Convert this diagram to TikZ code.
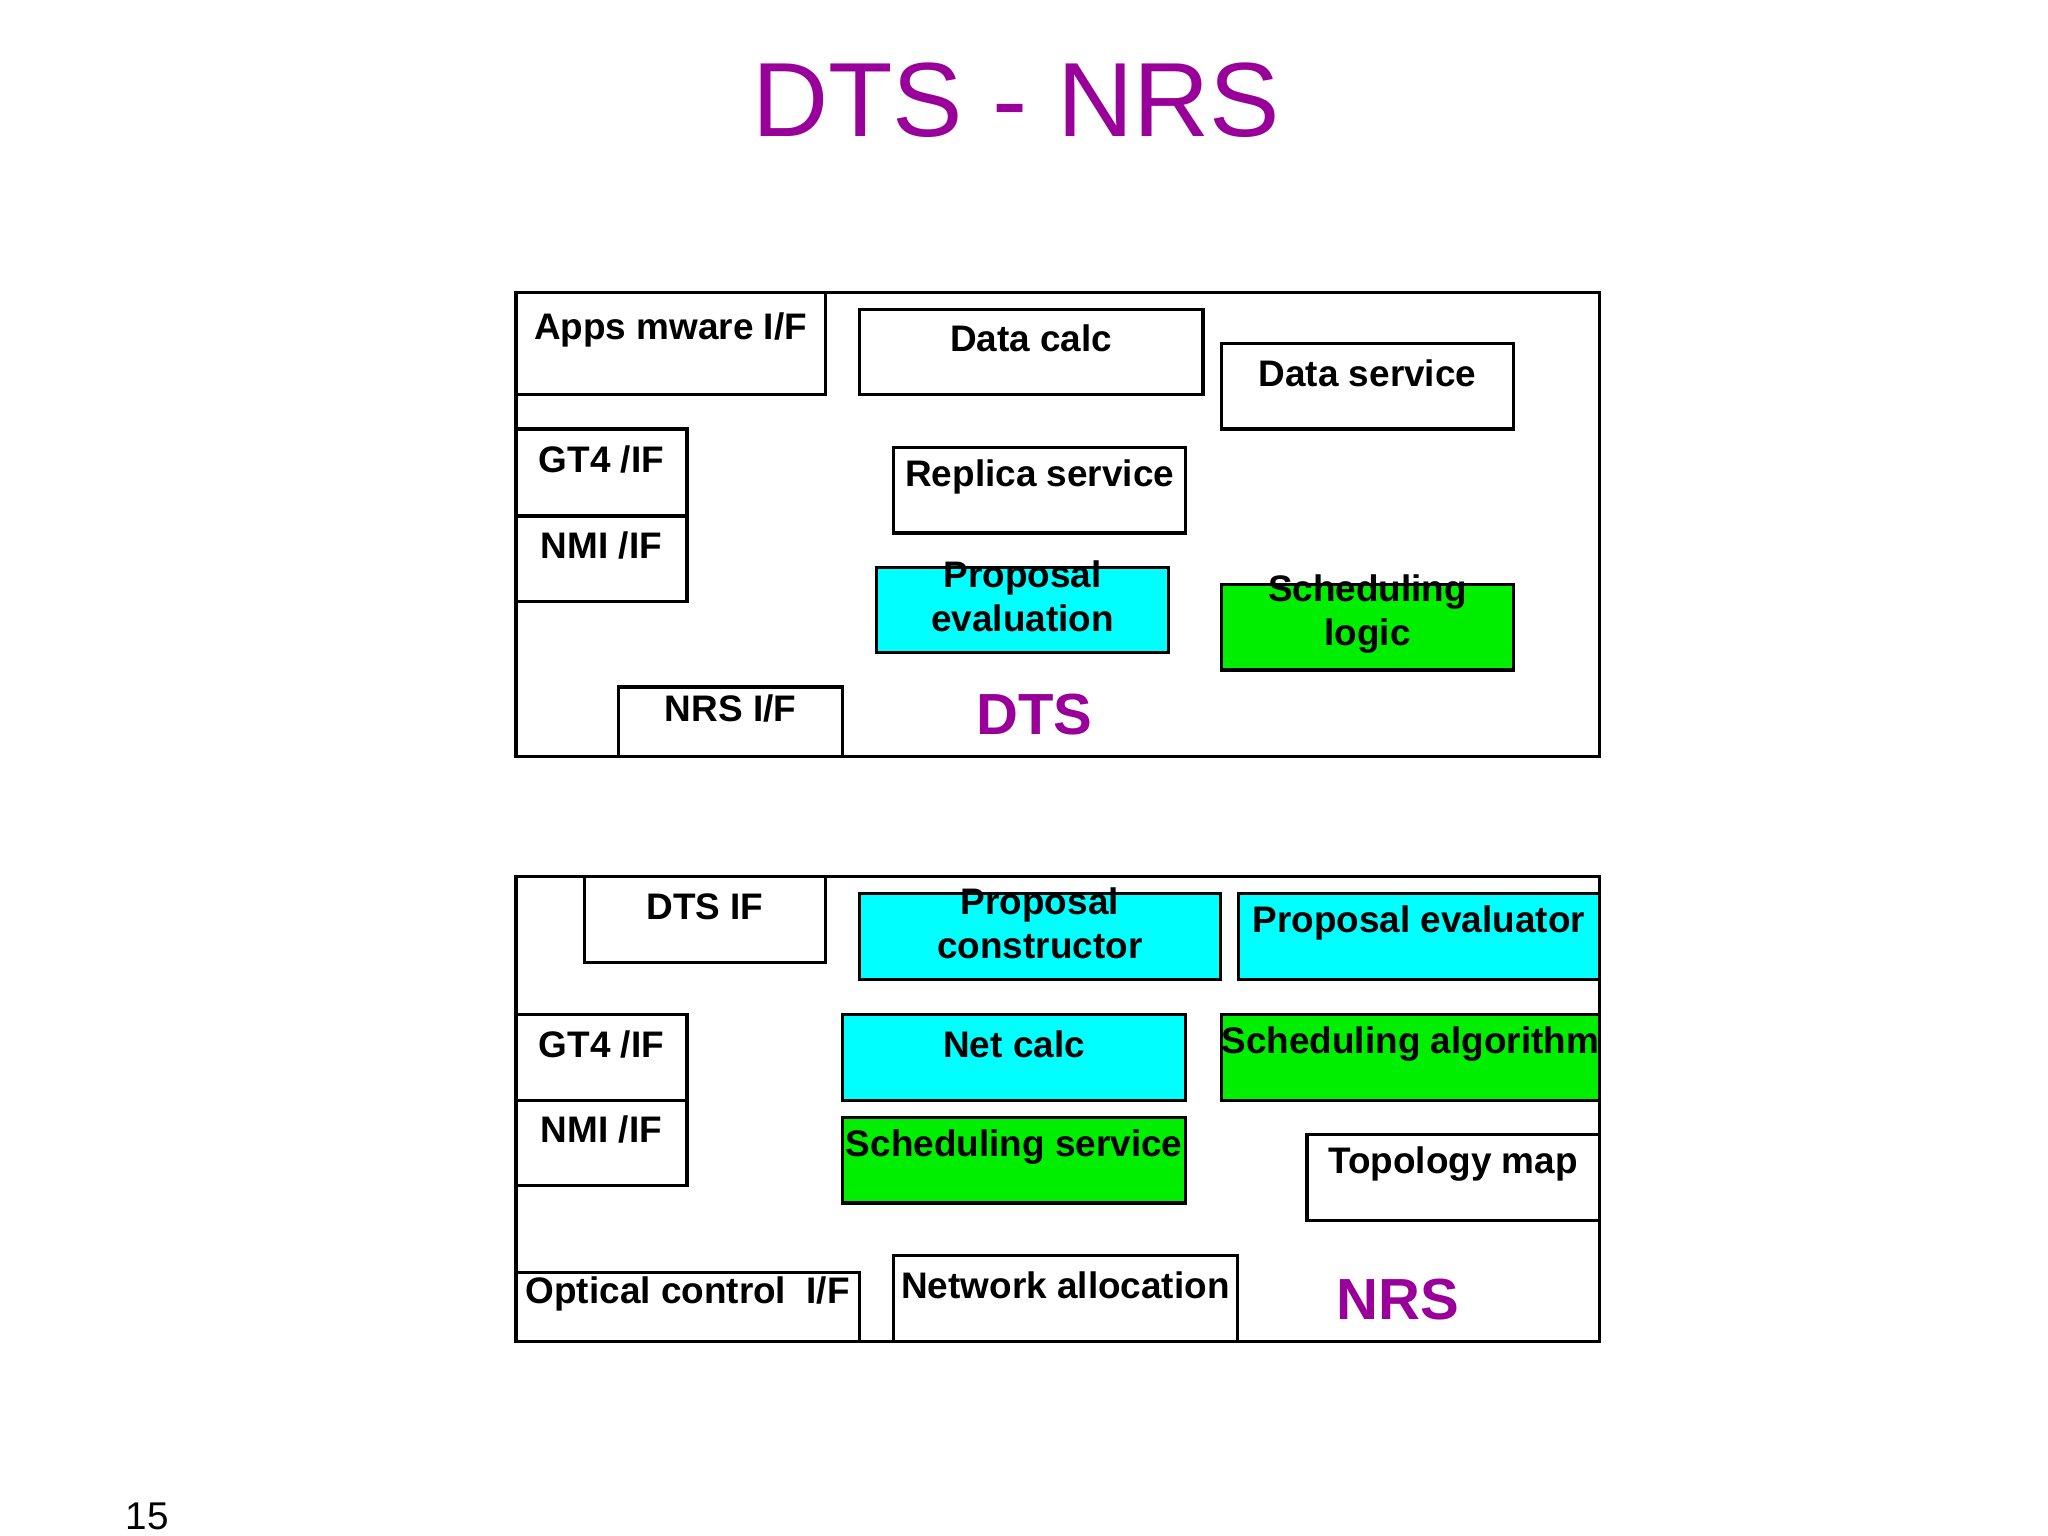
\documentclass[tikz,border=0pt]{standalone}
\usepackage{fontspec}
\setmainfont{Liberation Sans}
\usetikzlibrary{fit}
\definecolor{ttl}{RGB}{153,0,153}
\definecolor{cy}{RGB}{0,255,255}
\definecolor{gr}{RGB}{0,238,0}
\begin{document}
\begin{tikzpicture}[x=0.01316cm,y=-0.01316cm,
  bx/.style={draw=black,line width=0.9pt,inner sep=0pt,font=\fontsize{10.5}{12.5}\selectfont\bfseries,align=center},
  lbl/.style={text=ttl,font=\fontsize{16.5}{18}\selectfont\bfseries}]
\useasboundingbox (0,0) rectangle (1556,1167);
\node[text=ttl,font=\fontsize{30}{34}\selectfont] (title) at (772,76) {DTS - NRS};
% DTS
\node[bx,fit={(392,222)(1215,575)}] (dts) {};
\node[bx,fill=white,fit={(392,222)(627,300)}] (apps) {Apps mware I/F};
\node[bx,fit={(653,235)(914,300)}] (dcalc) {Data calc};
\node[bx,fit={(928,261)(1150,326)}] (dserv) {Data service};
\node[bx,fit={(392,326)(522,392)}] (gt4a) {GT4 /IF};
\node[bx,fit={(392,392)(522,457)}] (nmia) {NMI /IF};
\node[bx,fit={(679,340)(901,405)}] (repl) {Replica service};
\node[bx,fill=cy,fit={(666,431)(888,496)}] (peval) {Proposal\\ evaluation};
\node[bx,fill=gr,fit={(928,444)(1150,509)}] (slogic) {Scheduling logic};
\node[bx,fit={(470,522)(640,575)}] (nrsif) {NRS I/F};
\node[lbl] (dtsl) at (786,543) {DTS};
% NRS
\node[bx,fit={(392,666)(1215,1019)}] (nrs) {};
\node[bx,fit={(444,666)(627,731)}] (dtsif) {DTS IF};
\node[bx,fill=cy,fit={(653,679)(927,744)}] (pcons) {Proposal constructor};
\node[bx,fill=cy,fit={(941,679)(1215,744)}] (pevr) {Proposal evaluator};
\node[bx,fit={(392,771)(522,836)}] (gt4b) {GT4 /IF};
\node[bx,fit={(392,836)(522,901)}] (nmib) {NMI /IF};
\node[bx,fill=cy,fit={(640,771)(901,836)}] (ncalc) {Net calc};
\node[bx,fill=gr,fit={(928,771)(1215,836)}] (salg) {Scheduling algorithm};
\node[bx,fill=gr,fit={(640,849)(901,914)}] (sserv) {Scheduling service};
\node[bx,fit={(993,862)(1215,927)}] (topo) {Topology map};
\node[bx,fit={(392,967)(653,1019)}] (optc) {Optical control\ \ I/F};
\node[bx,fit={(679,954)(940,1019)}] (nalloc) {Network allocation};
\node[lbl] (nrsl) at (1062,987) {NRS};
\node[font=\fontsize{11}{13}\selectfont] (pg) at (112,1152) {15};
\end{tikzpicture}
\end{document}
